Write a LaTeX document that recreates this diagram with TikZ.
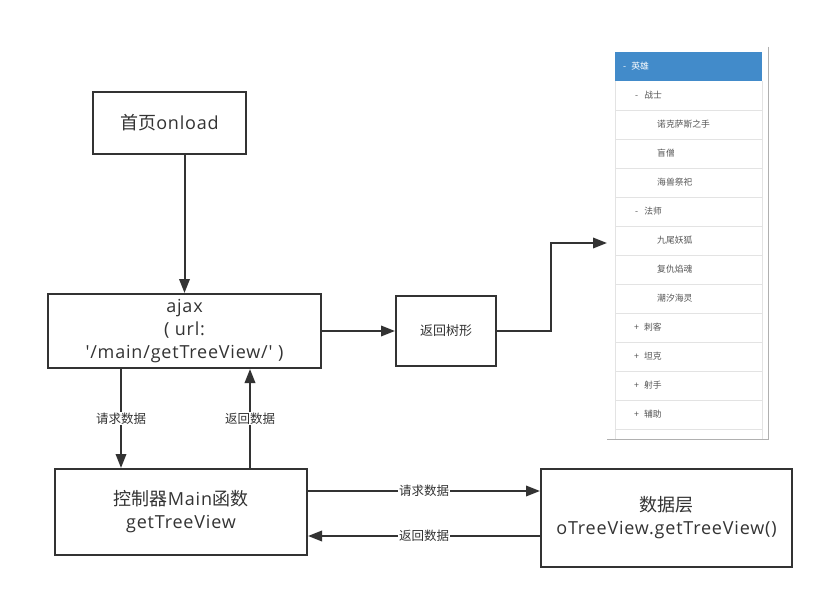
\documentclass[tikz,border=0pt]{standalone}
\usepackage{fontspec}
\newfontfamily\cjk{Noto Sans CJK SC}
\newfontfamily\lat{Open Sans}[LetterSpace=4.5]
\usetikzlibrary{arrows.meta}
\definecolor{ink}{HTML}{333333}
\definecolor{hdr}{HTML}{428BCA}
\definecolor{sep}{HTML}{E3E3E3}
\definecolor{frame}{HTML}{B0B0B0}
\definecolor{treetxt}{HTML}{555555}
\newcommand{\la}[1]{{\lat #1}}
\begin{document}
\begin{tikzpicture}[x=1pt,y=-1pt,
  box/.style={draw=ink,line width=2pt,rectangle,align=center,inner sep=0pt,
    font=\cjk\fontsize{18}{23}\selectfont,text=ink},
  conn/.style={draw=ink,line width=2pt,-{Triangle[length=14pt,width=10.5pt]}},
  lbl/.style={fill=white,inner sep=1pt,font=\cjk\fontsize{12.5}{14}\selectfont,text=ink},
  tt/.style={font=\cjk\fontsize{8.8}{10}\selectfont,text=treetxt,anchor=west,inner sep=0pt}]
\useasboundingbox (0,0) rectangle (824,599);
\fill[white] (0,0) rectangle (824,599);

% boxes
\node[box,minimum width=153pt,minimum height=62pt] (home) at (169.5,123) {首页\la{onload}};
\node[box,minimum width=273pt,minimum height=74pt] (ajax) at (184.5,331) {\la{ajax}\\\la{( url:}\\\la{'/main/getTreeView/' )}};
\node[box,minimum width=100pt,minimum height=70pt,font=\cjk\fontsize{13}{15}\selectfont] (tree) at (446,331) {返回树形};
\node[box,minimum width=252pt,minimum height=86pt] (ctrl) at (181,512) {控制器\la{Main}函数\\\la{getTreeView}};
\node[box,minimum width=251pt,minimum height=98pt] (data) at (666.5,518) {数据层\\\la{oTreeView.getTreeView()}};

% tree panel
\coordinate (panel) at (607,243);
\fill[hdr] (615,52) rectangle (762,81);
\node[tt,text=white] (h0) at (623,66.5) {-\hspace{5pt}英雄};
\foreach \i in {1,...,12}{
  \draw[sep,line width=0.8pt] (615,{81+29*\i}) -- (762,{81+29*\i});
}
\draw[sep,line width=0.8pt] (615,81) -- (615,439);
\draw[sep,line width=0.8pt] (762,81) -- (762,439);
\node[tt] (r1) at (635,95.5) {-\hspace{6pt}战士};
\node[tt] (r2) at (657,124.5) {诺克萨斯之手};
\node[tt] (r3) at (657,153.5) {盲僧};
\node[tt] (r4) at (657,182.5) {海兽祭祀};
\node[tt] (r5) at (635,211.5) {-\hspace{6pt}法师};
\node[tt] (r6) at (657,240.5) {九尾妖狐};
\node[tt] (r7) at (657,269.5) {复仇焰魂};
\node[tt] (r8) at (657,298.5) {潮汐海灵};
\node[tt] (r9) at (634,327.5) {+\hspace{5pt}刺客};
\node[tt] (r10) at (634,356.5) {+\hspace{5pt}坦克};
\node[tt] (r11) at (634,385.5) {+\hspace{5pt}射手};
\node[tt] (r12) at (634,414.5) {+\hspace{5pt}辅助};
\draw[frame,line width=1pt] (768,47) -- (768,439) -- (607,439);

% connectors
\draw[conn] (home.south -| ajax.north) -- (ajax.north);
\draw[conn] (ajax.east) -- (tree.west);
\draw[conn] (tree.east) -- (551,331) |- (panel);
\draw[conn] (ajax.south -| 121,0) -- node[lbl] {请求数据} (ctrl.north -| 121,0);
\draw[conn] (ctrl.north -| 250,0) -- node[lbl] {返回数据} (ajax.south -| 250,0);
\draw[conn] (ctrl.east |- 0,491) -- node[lbl] {请求数据} (data.west |- 0,491);
\draw[conn] (data.west |- 0,536) -- node[lbl] {返回数据} (ctrl.east |- 0,536);
\end{tikzpicture}
\end{document}
